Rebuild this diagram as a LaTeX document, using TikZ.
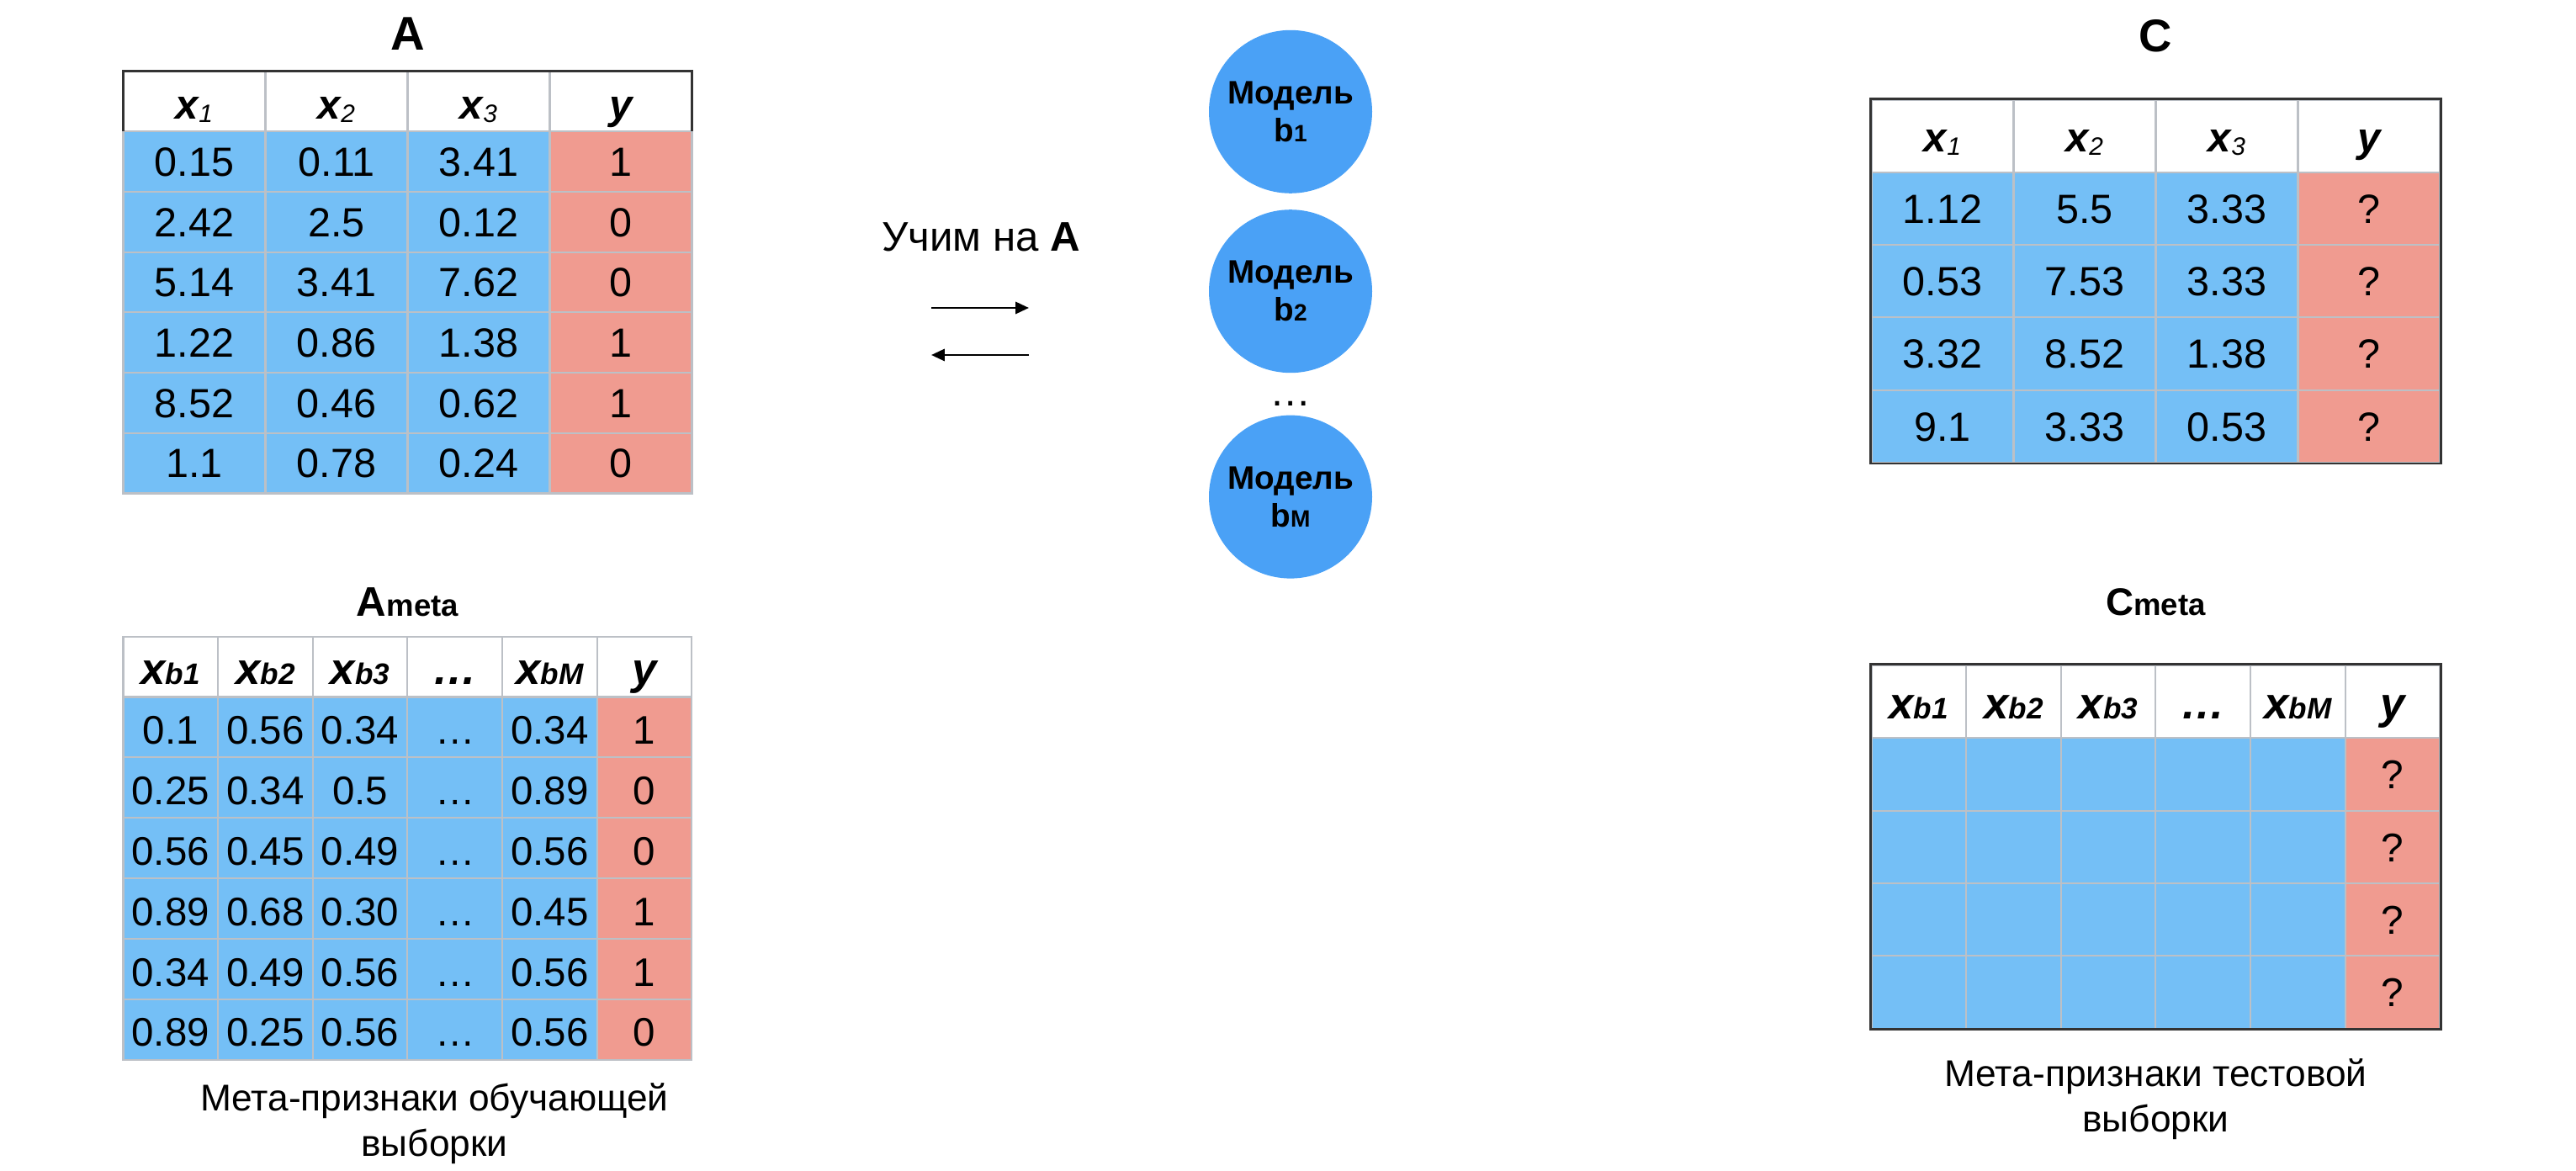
\documentclass[tikz,border=0pt]{standalone}
\usepackage{fontspec}
\setmainfont{Liberation Sans}
\usetikzlibrary{matrix,positioning,calc,arrows.meta}

\definecolor{featblue}{RGB}{116,191,246}
\definecolor{targetred}{RGB}{240,155,144}
\definecolor{modelblue}{RGB}{74,161,246}
\definecolor{gridgray}{RGB}{188,192,198}

% smaller index text, optionally lowered
\newcommand{\idx}[3][0pt]{\raisebox{-#1}{\fontsize{#2}{#2}\selectfont #3}}

\begin{document}
\begin{tikzpicture}[
    node distance=0.5cm,
    tabcell/.style={draw=gridgray, line width=0.6pt, fill=featblue, inner sep=0pt, outer sep=0pt, anchor=center},
    datatab/.style={matrix of nodes, nodes in empty cells, inner sep=0pt, outer sep=0pt, column sep=-0.6pt, row sep=-0.6pt, anchor=north west},
    tabframe/.style={draw=black!80, line width=0.8pt},
    ttl/.style={inner sep=0pt, font=\bfseries},
    model/.style={circle, fill=modelblue, minimum size=1.94cm, inner sep=0pt, align=center, font=\fontsize{11}{12.7}\selectfont\bfseries},
    capnote/.style={inner sep=0pt, align=center, font=\fontsize{12.6}{15.5}\selectfont},
    flow/.style={-{Triangle[length=4.5pt,width=4pt]}, line width=0.8pt}
]
    \useasboundingbox (0,0) rectangle (30.62,-13.92);

    % Training table A
    \matrix[datatab,
        nodes={tabcell, minimum width=1.69cm, minimum height=0.717cm, text height=12.9pt, text depth=3pt, font=\fontsize{13.8}{16}\selectfont},
        column 4/.style={nodes={fill=targetred}},
        row 1/.style={nodes={fill=white, text height=15pt, text depth=3pt, font=\fontsize{14}{16}\selectfont\bfseries\itshape}}]
        (tabA) at (1.454,-0.835) {
        x\idx[1pt]{8.5}{\mdseries 1} & x\idx[1pt]{8.5}{\mdseries 2} & x\idx[1pt]{8.5}{\mdseries 3} & y \\
        0.15 & 0.11 & 3.41 & 1 \\
        2.42 & 2.5  & 0.12 & 0 \\
        5.14 & 3.41 & 7.62 & 0 \\
        1.22 & 0.86 & 1.38 & 1 \\
        8.52 & 0.46 & 0.62 & 1 \\
        1.1  & 0.78 & 0.24 & 0 \\
    };
    \draw[tabframe] (tabA-1-1.south west) |- (tabA-1-4.north east) -- (tabA-1-4.south east);
    \node[ttl, font=\fontsize{16}{18}\selectfont\bfseries, above=0.235cm of tabA] (ttlA) {A};

    % Meta-features of the training set
    \matrix[datatab,
        nodes={tabcell, minimum width=1.1265cm, minimum height=0.719cm, text height=14pt, text depth=2.6pt, font=\fontsize{13.5}{15}\selectfont},
        column 6/.style={nodes={fill=targetred}},
        row 1/.style={nodes={fill=white, text height=14.8pt, text depth=3pt, font=\fontsize{15}{17}\selectfont\bfseries\itshape}},
        below=1.68cm of tabA.south west, anchor=north west]
        (tabAm) {
        x\idx{10}{b1} & x\idx{10}{b2} & x\idx{10}{b3} & … & x\idx{10}{bM} & y \\
        0.1  & 0.56 & 0.34 & … & 0.34 & 1 \\
        0.25 & 0.34 & 0.5  & … & 0.89 & 0 \\
        0.56 & 0.45 & 0.49 & … & 0.56 & 0 \\
        0.89 & 0.68 & 0.30 & … & 0.45 & 1 \\
        0.34 & 0.49 & 0.56 & … & 0.56 & 1 \\
        0.89 & 0.25 & 0.56 & … & 0.56 & 0 \\
    };
    \node[ttl, font=\fontsize{14}{16}\selectfont\bfseries, above=0.22cm of tabAm] (ttlAm) {A\idx{10.4}{meta}};
    \node[capnote, below=0.26cm of tabAm.south, xshift=0.32cm] (capA) {Мета-признаки обучающей\\выборки};

    % Training and the base models
    \node[inner sep=0pt, anchor=base, font=\fontsize{14}{16}\selectfont] (train) at (11.66,-2.99) {Учим на \textbf{A}};
    \coordinate (fwdA) at ($(train.base)+(-0.59,-0.67)$);
    \coordinate (fwdB) at ($(train.base)+(0.57,-0.67)$);
    \coordinate (backA) at ($(train.base)+(0.57,-1.23)$);
    \coordinate (backB) at ($(train.base)+(-0.59,-1.23)$);
    \draw[flow] (fwdA) -- (fwdB);
    \draw[flow] (backA) -- (backB);

    \node[model] (mod1) at (15.34,-1.328) {Модель\\b\idx{8}{1}};
    \node[model, below=0.18cm of mod1] (mod2) {Модель\\b\idx{8}{2}};
    \node[model, below=0.49cm of mod2] (modM) {Модель\\b\idx{8}{M}};
    \node[inner sep=0pt, font=\fontsize{14}{16}\selectfont] (mdots) at ($(mod2.south)!0.73!(modM.north)$) {…};

    % Test table C
    \matrix[datatab,
        nodes={tabcell, minimum width=1.69cm, minimum height=0.863cm, text height=12.9pt, text depth=3pt, font=\fontsize{13.8}{16}\selectfont},
        column 4/.style={nodes={fill=targetred}},
        row 1/.style={nodes={fill=white, text height=14pt, text depth=3pt, font=\fontsize{14}{16}\selectfont\bfseries\itshape}}]
        (tabC) at (22.234,-1.174) {
        x\idx[1pt]{8.5}{\mdseries 1} & x\idx[1pt]{8.5}{\mdseries 2} & x\idx[1pt]{8.5}{\mdseries 3} & y \\
        1.12 & 5.5  & 3.33 & ? \\
        0.53 & 7.53 & 3.33 & ? \\
        3.32 & 8.52 & 1.38 & ? \\
        9.1  & 3.33 & 0.53 & ? \\
    };
    \draw[tabframe] (tabC.north west) rectangle (tabC.south east);
    \node[ttl, font=\fontsize{15.5}{18}\selectfont\bfseries, above=0.55cm of tabC] (ttlC) {C};

    % Meta-features of the test set
    \matrix[datatab,
        nodes={tabcell, minimum width=1.1265cm, minimum height=0.864cm, text height=12.9pt, text depth=3pt, font=\fontsize{13.6}{16}\selectfont},
        column 6/.style={nodes={fill=targetred}},
        row 1/.style={nodes={fill=white, text height=14.8pt, text depth=3pt, font=\fontsize{15}{17}\selectfont\bfseries\itshape}},
        below=2.387cm of tabC.south west, anchor=north west]
        (tabCm) {
        x\idx{10}{b1} & x\idx{10}{b2} & x\idx{10}{b3} & … & x\idx{10}{bM} & y \\
        & & & & & ? \\
        & & & & & ? \\
        & & & & & ? \\
        & & & & & ? \\
    };
    \draw[tabframe] (tabCm.north west) rectangle (tabCm.south east);
    \node[ttl, font=\fontsize{13}{15}\selectfont\bfseries, above=0.566cm of tabCm] (ttlCm) {C\idx{10.4}{meta}};
    \node[capnote, below=0.34cm of tabCm.south] (capC) {Мета-признаки тестовой\\выборки};
\end{tikzpicture}
\end{document}
